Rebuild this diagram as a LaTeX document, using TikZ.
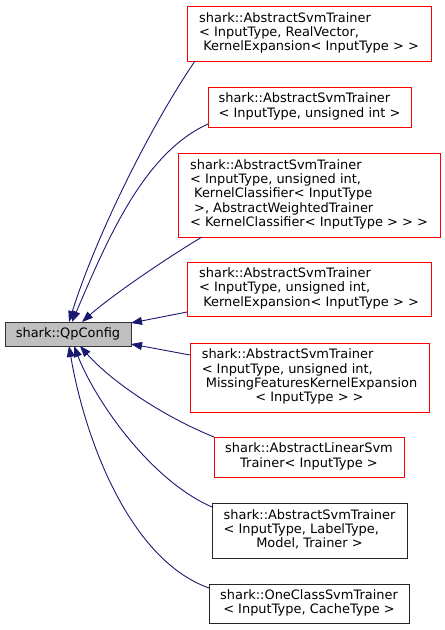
\documentclass[tikz,border=0pt]{standalone}
\usepackage{fontspec}
\setmainfont{DejaVu Sans}
\usetikzlibrary{arrows.meta,calc}
\definecolor{edgeblue}{HTML}{191970}
\definecolor{qfill}{HTML}{BFBFBF}
\newcommand\lns[1]{\begin{tabular}{@{}l@{}}#1\end{tabular}}
\newcommand\cln[1]{\multicolumn{1}{@{}c@{}}{#1}}
\begin{document}
\begin{tikzpicture}[x=1pt,y=-1pt,
  box/.style={draw, rectangle, inner sep=0pt, outer sep=0pt, line width=1pt,
    font=\fontsize{12.95}{14.3}\selectfont, text=black},
  redbox/.style={box, draw=red},
  blackbox/.style={box, draw=black!85},
  qbox/.style={box, draw=black!80, fill=qfill},
  edge/.style={draw=edgeblue, line width=0.9pt,
    -{Triangle[length=11pt,width=8pt]}, fill=none}]
\useasboundingbox (0,0) rectangle (445,630);

\node[qbox, minimum width=126pt, minimum height=24pt] (q) at (68,334) {shark::QpConfig};

\node[redbox, minimum width=244pt, minimum height=55pt] (b1) at (309,33.5)
  {\lns{shark::AbstractSvmTrainer\\ < InputType, RealVector,\\ \ KernelExpansion< InputType > >}};
\node[redbox, minimum width=203pt, minimum height=40pt] (b2) at (309.5,107)
  {\lns{shark::AbstractSvmTrainer\\ < InputType, unsigned int >}};
\node[redbox, minimum width=262pt, minimum height=84pt] (b3) at (309,195)
  {\lns{shark::AbstractSvmTrainer\\ < InputType, unsigned int,\\ \ KernelClassifier< InputType\\ \ >, AbstractWeightedTrainer\\ < KernelClassifier< InputType > > >}};
\node[redbox, minimum width=244pt, minimum height=54pt] (b4) at (309,289)
  {\lns{shark::AbstractSvmTrainer\\ < InputType, unsigned int,\\ \ KernelExpansion< InputType > >}};
\node[redbox, minimum width=239pt, minimum height=69pt] (b5) at (309.5,377.5)
  {\lns{shark::AbstractSvmTrainer\\ < InputType, unsigned int,\\ \ MissingFeaturesKernelExpansion\\ \cln{< InputType > >}}};
\node[redbox, minimum width=190pt, minimum height=40pt] (b6) at (309,457)
  {\lns{shark::AbstractLinearSvm\\ \cln{Trainer< InputType >}}};
\node[blackbox, minimum width=195pt, minimum height=55pt] (b7) at (309.5,530.5)
  {\lns{shark::AbstractSvmTrainer\\ < InputType, LabelType,\\ \cln{Model, Trainer >}}};
\node[blackbox, minimum width=200pt, minimum height=39pt] (b8) at (309,603.5)
  {\lns{\cln{shark::OneClassSvmTrainer}\\ \cln{< InputType, CacheType >}}};

\draw[edge] ($(b1.south west)+(8,0)$) .. controls (150,127) and (96,236) .. ($(q.north west)+(64,0)$);
\draw[edge] ($(b2.south west)+(0,-3)$) .. controls (144,153) and (108,238) .. ($(q.north west)+(67,0)$);
\draw[edge] ($(b3.south west)+(24,0)$) .. controls (162,261) and (110,297) .. ($(q.north west)+(77,0)$);
\draw[edge] ($(b4.south west)+(0,-4)$) -- ($(q.north east)+(0,1)$);
\draw[edge] ($(b5.north west)+(0,12)$) -- ($(q.south east)+(0,-2)$);
\draw[edge] (b6.north west) .. controls (160,415) and (110,380) .. ($(q.south west)+(75,0)$);
\draw[edge] ($(b7.north west)+(0,4)$) .. controls (150,480) and (95,400) .. ($(q.south west)+(69,0)$);
\draw[edge] ($(b8.north west)+(0,4)$) .. controls (130,560) and (85,440) .. ($(q.south west)+(64,0)$);
\end{tikzpicture}
\end{document}
